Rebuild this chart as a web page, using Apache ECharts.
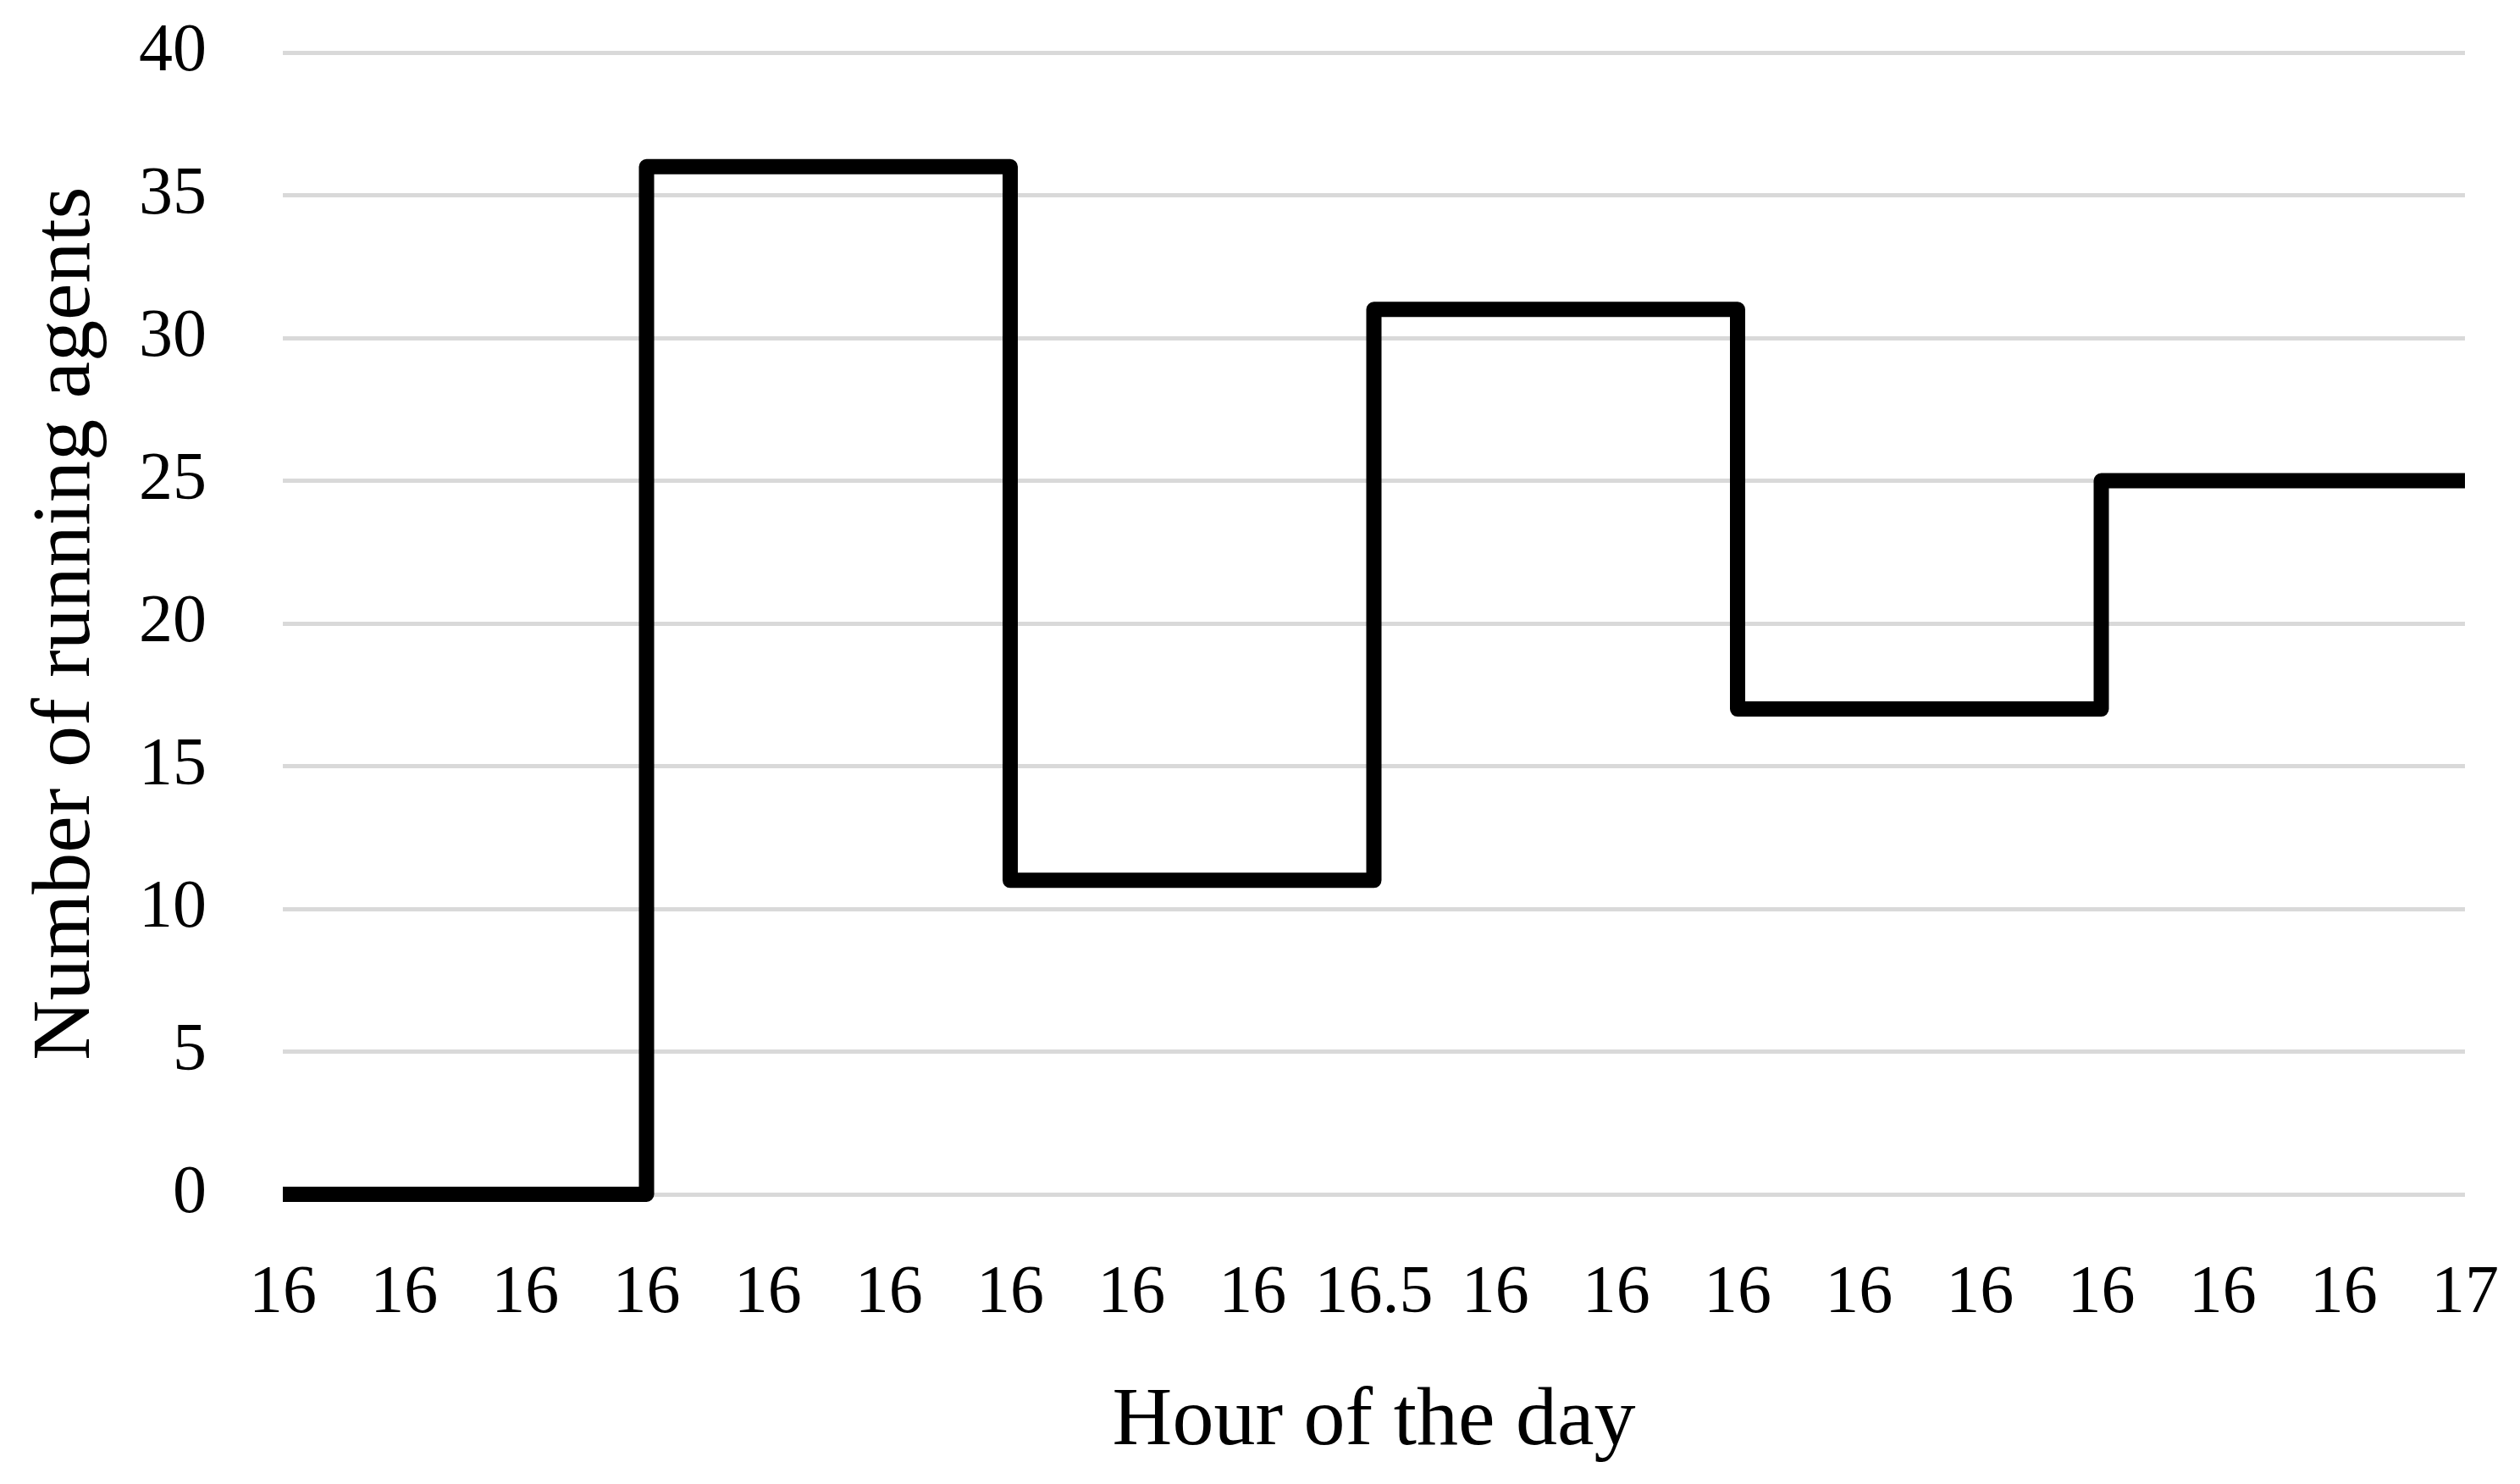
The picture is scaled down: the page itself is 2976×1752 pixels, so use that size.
<!DOCTYPE html>
<html>
<head>
<meta charset="utf-8">
<script src="https://cdn.jsdelivr.net/npm/echarts@6/dist/echarts.min.js"></script>
<style>
  html, body { margin: 0; padding: 0; background: #fff; }
  #chart { width: 2976px; height: 1752px; }
</style>
</head>
<body>
<div id="chart"></div>
<script>
// x tick labels as printed on the axis
const hourLabels = ['16', '16', '16', '16', '16', '16', '16', '16', '16', '16.5',
                    '16', '16', '16', '16', '16', '16', '16', '16', '17'];
// running agents, value held from each tick to the next one
const runningAgents = [0, 0, 0, 36, 36, 36, 11, 11, 11, 31, 31, 31, 17, 17, 17, 25, 25, 25, 25];

const yTicks = { min: 0, max: 40, interval: 5 };

const serif = '"Liberation Serif", "DejaVu Serif", serif';

let chart = echarts.init(document.getElementById('chart'));
let option = {
    animation: false,
    backgroundColor: '#ffffff',
    grid: { left: 334, right: 65, top: 62, bottom: 342 },
    xAxis: {
        type: 'category',
        data: hourLabels,
        boundaryGap: false,
        name: 'Hour of the day',
        nameLocation: 'middle',
        nameGap: 220,
        nameTextStyle: { fontFamily: serif, fontSize: 98, color: '#000' },
        axisLine: { show: false },
        axisTick: { show: false },
        splitLine: { show: false },
        axisLabel: {
            interval: 0,
            margin: 78,
            fontFamily: serif,
            fontSize: 80,
            color: '#000'
        }
    },
    yAxis: {
        type: 'value',
        min: yTicks.min,
        max: yTicks.max,
        interval: yTicks.interval,
        name: 'Number of running agents',
        nameLocation: 'middle',
        nameGap: 206,
        nameTextStyle: { fontFamily: serif, fontSize: 98, color: '#000' },
        axisLine: { show: false },
        axisTick: { show: false },
        splitLine: { lineStyle: { color: '#d9d9d9', width: 5 } },
        axisLabel: {
            margin: 90,
            fontFamily: serif,
            fontSize: 80,
            color: '#000',
            padding: [0, 0, 18, 0]
        }
    },
    series: [ {
        type: 'line',
        step: 'end',
        data: runningAgents,
        showSymbol: false,
        symbol: 'none',
        lineStyle: { color: '#000', width: 18, join: 'round', cap: 'butt' }
    } ]
};
chart.setOption(option);
</script>
</body>
</html>
